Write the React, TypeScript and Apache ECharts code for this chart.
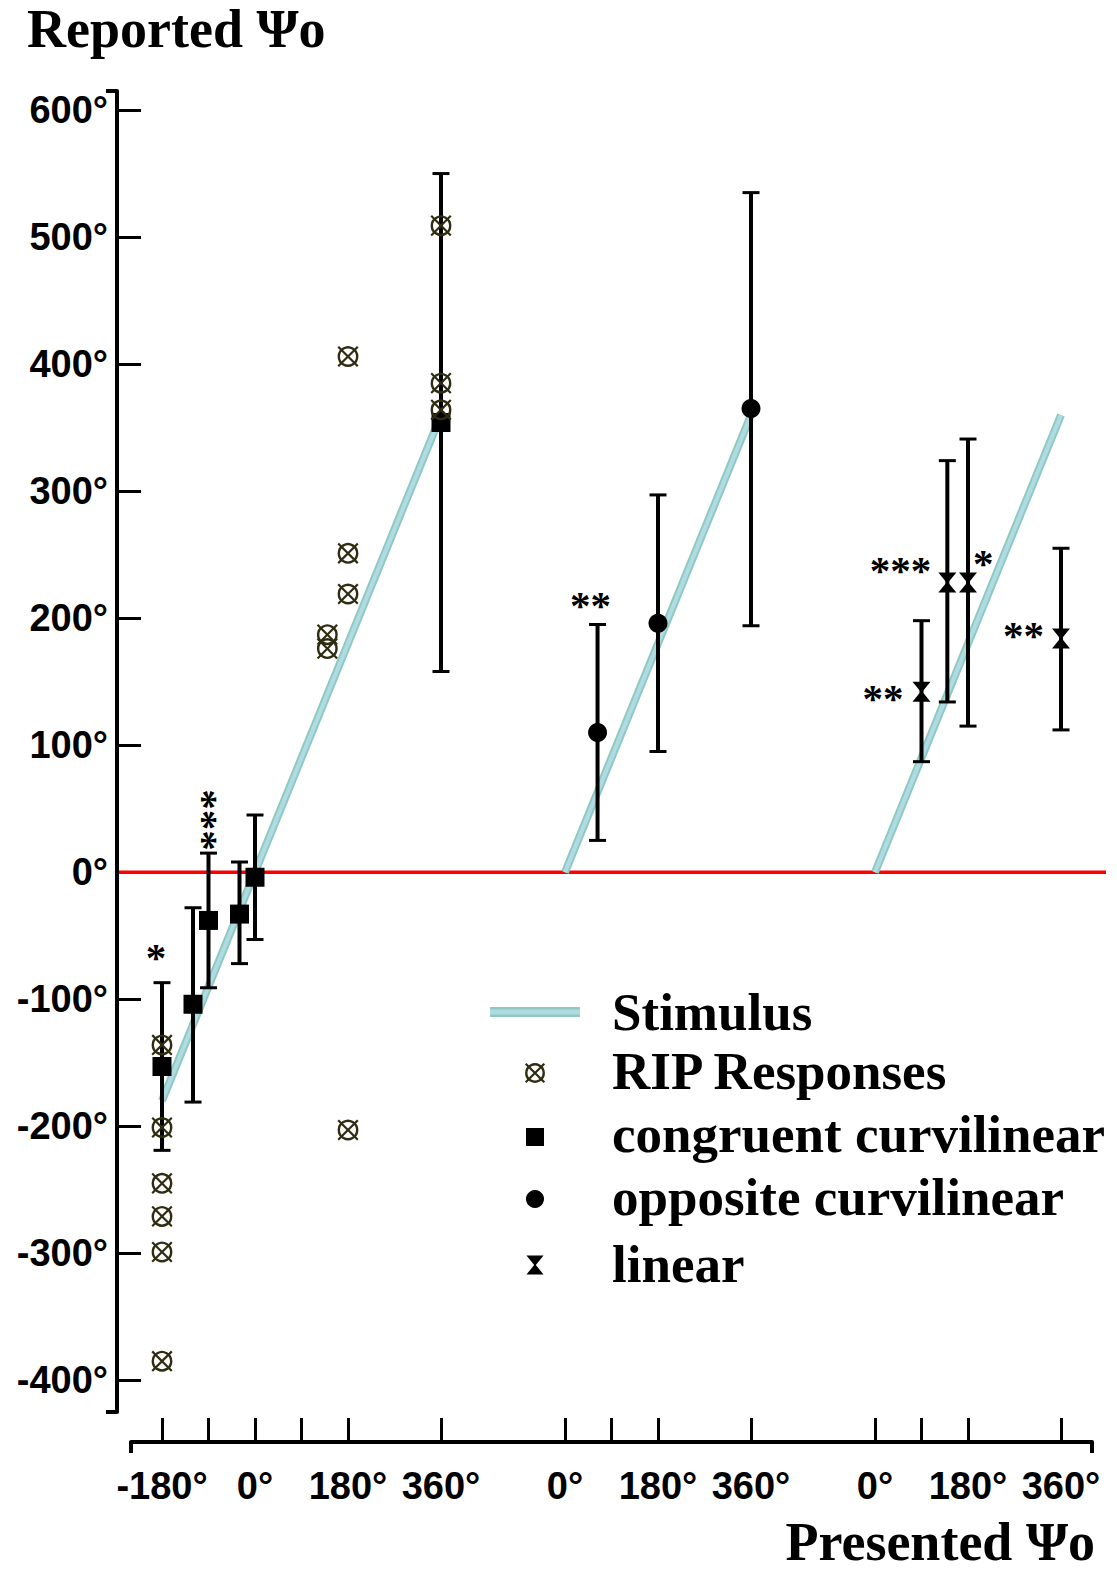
import React, { useEffect, useRef } from "react";
import * as echarts from "echarts";

// ---------------- data ----------------
const X_MIN = -240;
const X_MAX = 1620;
const Y_MIN = -425;
const Y_MAX = 615;

const yTickValues = [-400, -300, -200, -100, 0, 100, 200, 300, 400, 500, 600];
const panelOffsets = [0, 600, 1200];
const panel1TickValues = [-180, -90, 0, 90, 180, 360];
const panel23TickValues = [0, 90, 180, 360];
const panel1LabelValues = [-180, 0, 180, 360];
const panel23LabelValues = [0, 180, 360];

// stimulus (presented = reported) lines per panel
const stimulus1X = [-180, 360];
const stimulus1Y = [-180, 360];
const stimulus2X = [0, 360];
const stimulus2Y = [0, 360];
const stimulus3X = [0, 360];
const stimulus3Y = [0, 360];

// RIP responses (panel 1)
const ripX = [-180, -180, -180, -180, -180, -180, 140, 140, 180, 180, 180, 180, 360, 360, 360];
const ripY = [-136, -201, -245, -271, -299, -385, 187, 176, 406, 251, 219, -203, 509, 385, 364];

// congruent curvilinear (panel 1)
const congruentX = [-180, -120, -90, -30, 0, 360];
const congruentY = [-153, -104, -38, -33, -4, 354];
const congruentLow = [-219, -181, -91, -72, -53, 158];
const congruentHigh = [-87, -28, 15, 8, 45, 550];
const congruentSig = ["*", "", "***", "", "", ""];

// opposite curvilinear (panel 2)
const oppositeX = [63, 180, 360];
const oppositeY = [110, 196, 365];
const oppositeLow = [25, 95, 194];
const oppositeHigh = [195, 297, 535];
const oppositeSig = ["**", "", ""];

// linear (panel 3)
const linearX = [90, 140, 180, 360];
const linearY = [142, 228, 228, 184];
const linearLow = [87, 134, 115, 112];
const linearHigh = [198, 324, 341, 255];
const linearSig = ["**", "***", "*", "**"];

const legendLabels = ["Stimulus", "RIP Responses", "congruent curvilinear", "opposite curvilinear", "linear"];
const yTitle = "Reported Ψo";
const xTitle = "Presented Ψo";

// ---------------- styles ----------------
const SERIF = '"Liberation Serif", "Times New Roman", serif';
const SANS = '"Liberation Sans", Arial, sans-serif';
const STIM_OUTER = "#8fcac0";
const STIM_INNER = "#b0dbe5";
const RIP_COLOR = "#2e2d12";
const SIG_FONT = `bold 41px ${SERIF}`;

// placement of significance stars: relative to error-bar top ("top") or to the point ("point")
type SigPlace = { anchor: "top" | "point"; dx: number; dy: number; vertical?: boolean; align?: string };
const congruentSigPlace: SigPlace[] = [
  { anchor: "top", dx: -6, dy: -32 },
  null as any,
  { anchor: "top", dx: 1, dy: -33, vertical: true },
  null as any,
  null as any,
  null as any,
];
const oppositeSigPlace: SigPlace[] = [{ anchor: "top", dx: -7, dy: -25 }, null as any, null as any];
const linearSigPlace: SigPlace[] = [
  { anchor: "point", dx: -18, dy: 0, align: "right" },
  { anchor: "point", dx: -16, dy: -19, align: "right" },
  { anchor: "point", dx: 5, dy: -26, align: "left" },
  { anchor: "point", dx: -17, dy: -9, align: "right" },
];

function textEl(text: string, x: number, y: number, font: string, align = "center", vAlign = "middle") {
  return {
    type: "text",
    style: {
      text,
      x,
      y,
      font,
      fill: "#000",
      align,
      verticalAlign: vAlign,
      textAlign: align,
      textVerticalAlign: vAlign,
    },
  };
}

function markerEls(kind: string, cx: number, cy: number, s = 1) {
  if (kind === "square") {
    const h = 9.5 * s;
    return [{ type: "rect", shape: { x: cx - h, y: cy - h, width: 2 * h, height: 2 * h }, style: { fill: "#000" } }];
  }
  if (kind === "circle") {
    return [{ type: "circle", shape: { cx, cy, r: 9.5 * s }, style: { fill: "#000" } }];
  }
  if (kind === "hourglass") {
    const w = 9 * s;
    const h = 10 * s;
    return [
      { type: "polygon", shape: { points: [[cx - w, cy - h], [cx + w, cy - h], [cx, cy + 1]] }, style: { fill: "#000" } },
      { type: "polygon", shape: { points: [[cx - w, cy + h], [cx + w, cy + h], [cx, cy - 1]] }, style: { fill: "#000" } },
    ];
  }
  // crossed circle
  const r = 9.2 * s;
  const d = 9.8 * s;
  return [
    { type: "circle", shape: { cx, cy, r }, style: { fill: "none", stroke: RIP_COLOR, lineWidth: 2.4 } },
    { type: "line", shape: { x1: cx - d, y1: cy - d, x2: cx + d, y2: cy + d }, style: { stroke: RIP_COLOR, lineWidth: 2.2 } },
    { type: "line", shape: { x1: cx - d, y1: cy + d, x2: cx + d, y2: cy - d }, style: { stroke: RIP_COLOR, lineWidth: 2.2 } },
  ];
}

function errorBarRender(kind: string, sigs: string[], places: SigPlace[]) {
  return (params: any, api: any) => {
    const x = api.value(0);
    const p = api.coord([x, api.value(1)]);
    const pLo = api.coord([x, api.value(2)]);
    const pHi = api.coord([x, api.value(3)]);
    const cx = p[0];
    const cap = 8.5;
    const children: any[] = [
      { type: "line", shape: { x1: cx, y1: pHi[1], x2: cx, y2: pLo[1] }, style: { stroke: "#000", lineWidth: 4 } },
      { type: "line", shape: { x1: cx - cap, y1: pHi[1], x2: cx + cap, y2: pHi[1] }, style: { stroke: "#000", lineWidth: 3 } },
      { type: "line", shape: { x1: cx - cap, y1: pLo[1], x2: cx + cap, y2: pLo[1] }, style: { stroke: "#000", lineWidth: 3 } },
      ...markerEls(kind, cx, p[1]),
    ];
    const s = sigs[params.dataIndex];
    const pl = places[params.dataIndex];
    if (s && pl) {
      const ay = pl.anchor === "top" ? pHi[1] : p[1];
      const tx = cx + pl.dx;
      if (pl.vertical) {
        // a vertical stack of stars: one text, turned a quarter turn about its centre
        const t: any = textEl(s, 0, 0, SIG_FONT, "center");
        t.x = tx + 3;
        t.y = ay + pl.dy;
        t.rotation = Math.PI / 2;
        children.push(t);
      } else {
        const ty = ay + pl.dy + 6; // star glyph sits high in the em box
        children.push(textEl(s, tx, ty, SIG_FONT, pl.align || "center"));
      }
    }
    return { type: "group", children };
  };
}

function ripRender(params: any, api: any) {
  const p = api.coord([api.value(0), api.value(1)]);
  return { type: "group", children: markerEls("rip", p[0], p[1]) };
}

function xLabelFormatter(v: number) {
  const off = v >= 1080 ? panelOffsets[2] : v >= 480 ? panelOffsets[1] : panelOffsets[0];
  return `${v - off}°`;
}

function buildOption() {
  const tickValues = [
    ...panel1TickValues.map((v) => v + panelOffsets[0]),
    ...panel23TickValues.map((v) => v + panelOffsets[1]),
    ...panel23TickValues.map((v) => v + panelOffsets[2]),
  ];
  const labelValues = [
    ...panel1LabelValues.map((v) => v + panelOffsets[0]),
    ...panel23LabelValues.map((v) => v + panelOffsets[1]),
    ...panel23LabelValues.map((v) => v + panelOffsets[2]),
  ];

  const stimPanels = [
    { x: stimulus1X, y: stimulus1Y, off: panelOffsets[0] },
    { x: stimulus2X, y: stimulus2Y, off: panelOffsets[1] },
    { x: stimulus3X, y: stimulus3Y, off: panelOffsets[2] },
  ];
  const stimSeries: any[] = [];
  stimPanels.forEach((sp) => {
    const data = sp.x.map((x, i) => [x + sp.off, sp.y[i]]);
    stimSeries.push({
      type: "line",
      name: "Stimulus",
      data,
      symbol: "none",
      silent: true,
      z: 3,
      lineStyle: { color: STIM_OUTER, width: 8, cap: "butt" },
    });
    stimSeries.push({
      type: "line",
      name: "Stimulus inner",
      data,
      symbol: "none",
      silent: true,
      z: 3,
      lineStyle: { color: STIM_INNER, width: 4, cap: "butt" },
    });
  });

  const axisLabelStyle = { fontFamily: SANS, fontWeight: "bold", fontSize: 38, color: "#000" };

  return {
    animation: false,
    backgroundColor: "#fff",
    grid: { left: 131, right: 25, top: 91, bottom: 159, containLabel: false, outerBoundsMode: "none" },
    xAxis: [
      {
        type: "value",
        min: X_MIN,
        max: X_MAX,
        position: "bottom",
        offset: 30,
        axisLine: { show: true, onZero: false, lineStyle: { color: "#000", width: 4 } },
        axisTick: { show: true, inside: true, length: 24, customValues: tickValues, lineStyle: { color: "#000", width: 3 } },
        axisLabel: { show: true, margin: 25, customValues: labelValues, formatter: xLabelFormatter, ...axisLabelStyle },
        splitLine: { show: false },
      },
      {
        type: "value",
        min: X_MIN,
        max: X_MAX,
        position: "bottom",
        offset: 30,
        axisLine: { show: false, onZero: false },
        axisTick: { show: true, inside: false, length: 11, customValues: [X_MIN, X_MAX], lineStyle: { color: "#000", width: 4 } },
        axisLabel: { show: false },
        splitLine: { show: false },
      },
    ],
    yAxis: [
      {
        type: "value",
        min: Y_MIN,
        max: Y_MAX,
        position: "left",
        offset: 14,
        axisLine: { show: true, onZero: false, lineStyle: { color: "#000", width: 4 } },
        axisTick: { show: true, inside: true, length: 24, customValues: yTickValues, lineStyle: { color: "#000", width: 3 } },
        axisLabel: { show: true, margin: 9, customValues: yTickValues, formatter: (v: number) => `${v}°`, ...axisLabelStyle },
        splitLine: { show: false },
      },
      {
        type: "value",
        min: Y_MIN,
        max: Y_MAX,
        position: "left",
        offset: 14,
        axisLine: { show: false, onZero: false },
        axisTick: { show: true, inside: false, length: 11, customValues: [Y_MIN, Y_MAX], lineStyle: { color: "#000", width: 4 } },
        axisLabel: { show: false },
        splitLine: { show: false },
      },
    ],
    series: [
      ...stimSeries,
      {
        type: "custom",
        name: "congruent curvilinear",
        z: 4,
        clip: false,
        silent: true,
        renderItem: errorBarRender("square", congruentSig, congruentSigPlace),
        encode: { x: 0, y: [1, 2, 3] },
        data: congruentX.map((x, i) => [x + panelOffsets[0], congruentY[i], congruentLow[i], congruentHigh[i]]),
      },
      {
        type: "custom",
        name: "opposite curvilinear",
        z: 4,
        clip: false,
        silent: true,
        renderItem: errorBarRender("circle", oppositeSig, oppositeSigPlace),
        encode: { x: 0, y: [1, 2, 3] },
        data: oppositeX.map((x, i) => [x + panelOffsets[1], oppositeY[i], oppositeLow[i], oppositeHigh[i]]),
      },
      {
        type: "custom",
        name: "linear",
        z: 4,
        clip: false,
        silent: true,
        renderItem: errorBarRender("hourglass", linearSig, linearSigPlace),
        encode: { x: 0, y: [1, 2, 3] },
        data: linearX.map((x, i) => [x + panelOffsets[2], linearY[i], linearLow[i], linearHigh[i]]),
      },
      {
        type: "custom",
        name: "RIP Responses",
        z: 5,
        clip: false,
        silent: true,
        renderItem: ripRender,
        encode: { x: 0, y: 1 },
        data: ripX.map((x, i) => [x + panelOffsets[0], ripY[i]]),
      },
    ],
  };
}

function buildGraphic(xLeft: number, xRight: number, yZero: number) {
  const legendFont = `bold 53px ${SERIF}`;
  const titleFont = `bold 54px ${SERIF}`;
  const iconX = 535;
  const textX = 612;
  const rowY = [1012, 1071, 1134, 1197, 1264];
  const iconY = [1012, 1073, 1137, 1199, 1265];
  const els: any[] = [
    {
      type: "line",
      z: 1,
      silent: true,
      shape: { x1: xLeft, y1: yZero, x2: xRight, y2: yZero },
      style: { stroke: "#ff0000", lineWidth: 3.5 },
    },
    { ...textEl(yTitle, 27, 29, titleFont, "left"), z: 10 },
    { ...textEl(xTitle, 1095, 1542, titleFont, "right"), z: 10 },
    {
      type: "line",
      z: 10,
      shape: { x1: 490, y1: iconY[0], x2: 580, y2: iconY[0] },
      style: { stroke: STIM_OUTER, lineWidth: 10 },
    },
    {
      type: "line",
      z: 10,
      shape: { x1: 490, y1: iconY[0], x2: 580, y2: iconY[0] },
      style: { stroke: STIM_INNER, lineWidth: 5 },
    },
  ];
  const kinds = ["", "rip", "square", "circle", "hourglass"];
  for (let i = 1; i < kinds.length; i++) {
    markerEls(kinds[i], iconX, iconY[i], 0.95).forEach((m: any) => els.push({ ...m, z: 10 }));
  }
  legendLabels.forEach((lab, i) => {
    els.push({ ...textEl(lab, textX, rowY[i], legendFont, "left"), z: 10 });
  });
  return els;
}

export default function App() {
  const ref = useRef<HTMLDivElement>(null);
  useEffect(() => {
    if (!ref.current) return;
    const chart = echarts.init(ref.current, null, { renderer: "svg" });
    chart.setOption(buildOption() as any);
    const yZero = chart.convertToPixel({ yAxisIndex: 0 } as any, 0) as number;
    const xL = chart.convertToPixel({ xAxisIndex: 0 } as any, X_MIN) as number;
    const xR = chart.convertToPixel({ xAxisIndex: 0 } as any, X_MAX) as number;
    chart.setOption({ graphic: buildGraphic(xL - 12, xR + 14, yZero) } as any);
    return () => chart.dispose();
  }, []);
  return (
    <div
      ref={ref}
      style={{ position: "absolute", left: 0, top: 0, width: 1117, height: 1571, background: "#fff" }}
    />
  );
}
